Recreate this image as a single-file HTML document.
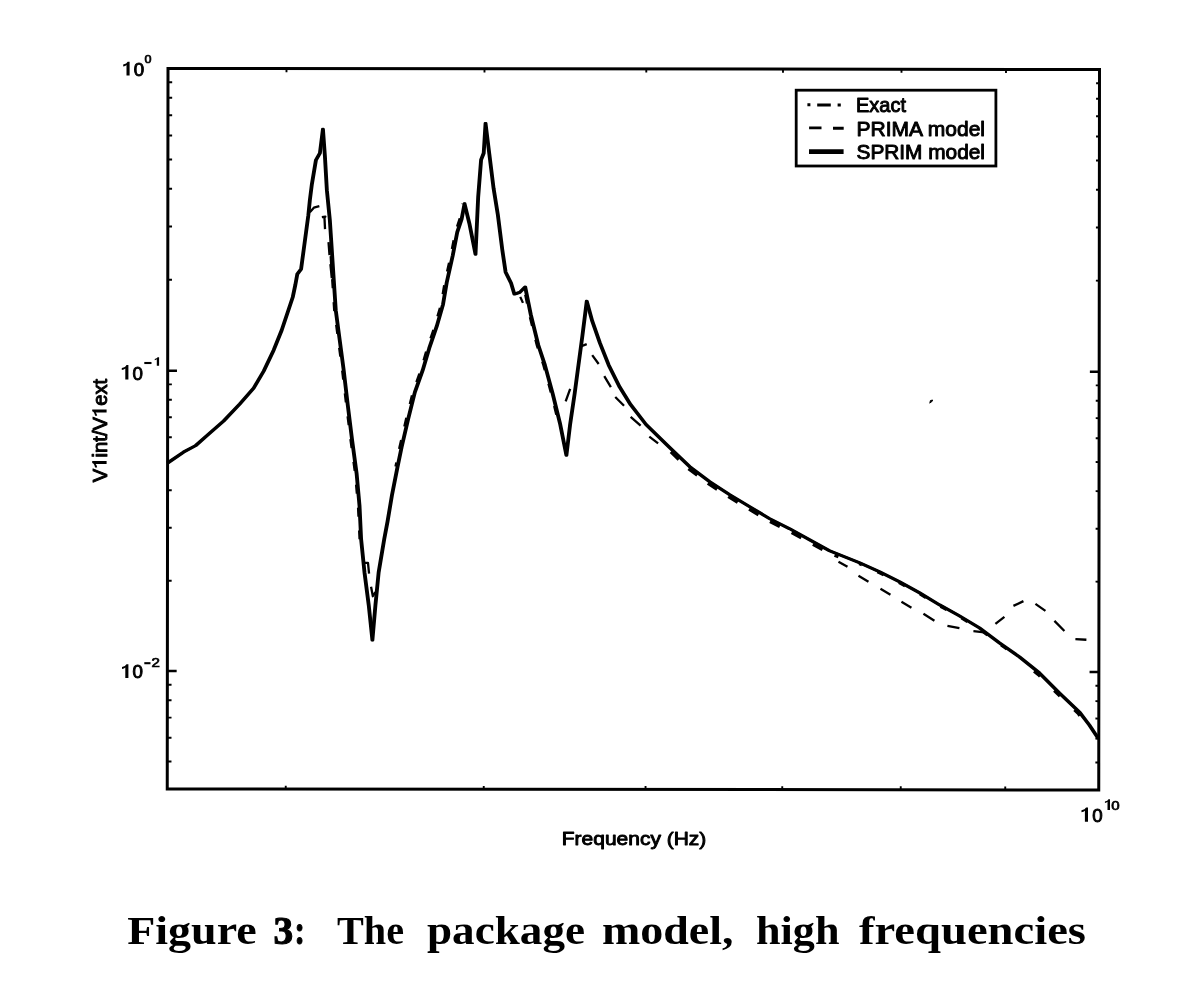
<!DOCTYPE html>
<html><head><meta charset="utf-8"><title>Figure 3</title>
<style>html,body{margin:0;padding:0;background:#fff}body{width:1184px;height:1000px;overflow:hidden}svg{display:block;filter:grayscale(1)}text{font-family:"Liberation Sans",sans-serif;fill:#000}.cap{font-family:"Liberation Serif",serif;font-weight:bold}</style></head><body>
<svg width="1184" height="1000" viewBox="0 0 1184 1000">
<rect width="1184" height="1000" fill="#fff"/>
<g transform="rotate(0.06 168 68.5)">
<rect x="168.0" y="68.5" width="931.5" height="720.5" fill="none" stroke="#000" stroke-width="3"/>
<path d="M168.0 279.7 h4.2 M1099.5 279.7 h-3.4 M168.0 226.5 h4.2 M1099.5 226.5 h-3.4 M168.0 188.8 h4.2 M1099.5 188.8 h-3.4 M168.0 159.5 h4.2 M1099.5 159.5 h-3.4 M168.0 135.5 h4.2 M1099.5 135.5 h-3.4 M168.0 115.3 h4.2 M1099.5 115.3 h-3.4 M168.0 97.8 h4.2 M1099.5 97.8 h-3.4 M168.0 82.3 h4.2 M1099.5 82.3 h-3.4 M168.0 580.7 h4.2 M1099.5 580.7 h-3.4 M168.0 527.8 h4.2 M1099.5 527.8 h-3.4 M168.0 490.2 h4.2 M1099.5 490.2 h-3.4 M168.0 461.1 h4.2 M1099.5 461.1 h-3.4 M168.0 437.3 h4.2 M1099.5 437.3 h-3.4 M168.0 417.2 h4.2 M1099.5 417.2 h-3.4 M168.0 399.8 h4.2 M1099.5 399.8 h-3.4 M168.0 384.4 h4.2 M1099.5 384.4 h-3.4 M168.0 761.5 h4.2 M1099.5 761.5 h-3.4 M168.0 737.7 h4.2 M1099.5 737.7 h-3.4 M168.0 717.6 h4.2 M1099.5 717.6 h-3.4 M168.0 700.2 h4.2 M1099.5 700.2 h-3.4 M168.0 684.8 h4.2 M1099.5 684.8 h-3.4 M286.5 68.5 v3.6 M286.5 789.0 v-3.4 M484.5 68.5 v3.6 M484.5 789.0 v-3.4 M646.3 68.5 v3.6 M646.3 789.0 v-3.4 M783.0 68.5 v3.6 M783.0 789.0 v-3.4 M901.5 68.5 v3.6 M901.5 789.0 v-3.4 M1006.0 68.5 v3.6 M1006.0 789.0 v-3.4" stroke="#000" stroke-width="1.9" fill="none"/>
<path d="M168.0 370.7 h9.3 M1099.5 370.7 h-9.3 M168.0 671.1 h9.3 M1099.5 671.1 h-9.3" stroke="#000" stroke-width="2.5" fill="none"/>
<path d="M310.0 212.0 L314.0 207.5 L319.5 206.0 M322.0 217.0 L325.5 216.5 L324.6 217.0 L325.2 229.0 M328.7 242.0 L329.7 255.0 M330.6 264.0 L332.0 278.0 M364.0 562.7 L368.5 562.7 L369.6 573.5 M371.6 586.5 L373.4 596.0 L376.0 592.0 M523.2 302.5 L520.5 296.5 M566.0 401.0 L570.5 388.5 M580.4 346.3 L587.0 343.7 M592.5 354.7 L599.0 363.5 M604.6 375.6 L611.2 386.6 M615.6 396.5 L624.4 405.3 M631.0 416.4 L641.0 425.1 M649.7 436.2 L658.5 442.8 M839.0 561.0 L848.0 566.0 M859.0 575.0 L869.0 581.0 M881.0 588.0 L891.0 594.0 M902.0 601.0 L912.0 607.0 M924.0 613.0 L935.0 620.0 M948.0 625.0 L960.0 627.3 M974.0 630.3 L985.0 631.5 M996.0 623.0 L1005.0 616.0 M1014.0 605.0 L1024.0 600.2 M1036.0 603.0 L1046.0 610.0 M1055.0 620.0 L1065.0 630.0 M1076.0 638.2 L1087.0 638.8" stroke="#000" stroke-width="2.3" fill="none" stroke-linejoin="round"/>
<path d="M168.0 463.0 L184.0 452.0 L196.0 445.6 L208.0 435.0 L224.0 421.0 L240.0 404.0 L254.0 388.0 L264.0 371.0 L274.0 350.0 L282.0 330.0 L288.0 312.0 L293.0 297.0 L295.5 285.0 L297.5 274.0 L301.3 269.0 L302.5 260.0 L304.5 245.0 L306.5 230.0 L308.5 215.0 L310.0 200.0 L312.0 184.0 L316.0 160.0 L320.0 153.0 L323.0 129.0 L325.0 156.0 L327.0 190.0 L330.0 220.0 L332.0 250.0 L334.0 280.0 L336.0 310.0 L340.0 340.0 L344.0 370.0 L348.0 404.0 L352.5 440.0 L357.0 473.0 L360.0 506.0 L361.6 539.0 L365.0 572.0 L369.3 605.0 L373.0 640.0 L376.0 605.0 L379.2 572.0 L384.7 539.0 L388.0 521.4 L392.4 495.0 L398.0 466.4 L402.0 447.0 L408.6 418.5 L415.2 392.0 L423.0 370.0 L429.5 348.0 L437.0 326.0 L443.3 304.0 L447.0 282.0 L453.0 255.0 L457.4 232.0 L461.8 218.8 L464.7 203.4 L469.5 223.0 L475.7 254.0 L478.3 196.8 L481.2 159.4 L483.8 152.8 L485.6 123.0 L489.3 152.8 L493.7 188.0 L498.0 214.4 L502.5 249.6 L505.8 271.7 L511.3 282.7 L514.6 293.7 L520.0 292.0 L525.4 286.5 L531.0 314.0 L538.6 344.8 L545.2 364.6 L553.0 393.2 L560.6 424.0 L566.8 454.9 L570.5 424.0 L575.0 393.2 L578.2 369.0 L582.6 336.0 L587.0 300.8 L592.5 320.6 L600.2 342.6 L609.0 364.6 L620.0 386.6 L631.0 404.2 L646.4 424.0 L670.0 447.0 L690.0 466.0 L710.0 481.0 L730.0 494.0 L750.0 506.0 L770.0 518.0 L790.0 528.0 L810.0 539.0 L830.0 550.0 L840.0 554.0 L860.0 562.0 L880.0 571.0 L900.0 581.0 L920.0 592.0 L940.0 604.0 L960.0 615.0 L980.0 627.0 L1000.0 642.0 L1020.0 656.0 L1040.0 672.0 L1060.0 692.0 L1080.0 711.0 L1090.0 724.0 L1099.0 737.5" stroke="#000" stroke-width="2.75" fill="none" stroke-linejoin="round" transform="translate(-0.55 0)"/>
<path d="M168.0 463.0 L184.0 452.0 L196.0 445.6 L208.0 435.0 L224.0 421.0 L240.0 404.0 L254.0 388.0 L264.0 371.0 L274.0 350.0 L282.0 330.0 L288.0 312.0 L293.0 297.0 L295.5 285.0 L297.5 274.0 L301.3 269.0 L302.5 260.0 L304.5 245.0 L306.5 230.0 L308.5 215.0 L310.0 200.0 L312.0 184.0 L316.0 160.0 L320.0 153.0 L323.0 129.0 L325.0 156.0 L327.0 190.0 L330.0 220.0 L332.0 250.0 L334.0 280.0 L336.0 310.0 L340.0 340.0 L344.0 370.0 L348.0 404.0 L352.5 440.0 L357.0 473.0 L360.0 506.0 L361.6 539.0 L365.0 572.0 L369.3 605.0 L373.0 640.0 L376.0 605.0 L379.2 572.0 L384.7 539.0 L388.0 521.4 L392.4 495.0 L398.0 466.4 L402.0 447.0 L408.6 418.5 L415.2 392.0 L423.0 370.0 L429.5 348.0 L437.0 326.0 L443.3 304.0 L447.0 282.0 L453.0 255.0 L457.4 232.0 L461.8 218.8 L464.7 203.4 L469.5 223.0 L475.7 254.0 L478.3 196.8 L481.2 159.4 L483.8 152.8 L485.6 123.0 L489.3 152.8 L493.7 188.0 L498.0 214.4 L502.5 249.6 L505.8 271.7 L511.3 282.7 L514.6 293.7 L520.0 292.0 L525.4 286.5 L531.0 314.0 L538.6 344.8 L545.2 364.6 L553.0 393.2 L560.6 424.0 L566.8 454.9 L570.5 424.0 L575.0 393.2 L578.2 369.0 L582.6 336.0 L587.0 300.8 L592.5 320.6 L600.2 342.6 L609.0 364.6 L620.0 386.6 L631.0 404.2 L646.4 424.0 L670.0 447.0 L690.0 466.0 L710.0 481.0 L730.0 494.0 L750.0 506.0 L770.0 518.0 L790.0 528.0 L810.0 539.0 L830.0 550.0 L840.0 554.0 L860.0 562.0 L880.0 571.0 L900.0 581.0 L920.0 592.0 L940.0 604.0 L960.0 615.0 L980.0 627.0 L1000.0 642.0 L1020.0 656.0 L1040.0 672.0 L1060.0 692.0 L1080.0 711.0 L1090.0 724.0 L1099.0 737.5" stroke="#000" stroke-width="2.75" fill="none" stroke-linejoin="round" transform="translate(0.55 0)"/>
<path d="M669.1 448.8 L689.1 467.8 L709.1 482.8 L729.1 495.8 L749.1 507.8 L769.1 519.8 L789.1 529.8 L809.1 540.8 L829.1 551.8 L839.1 555.8" stroke="#000" stroke-width="4.0" fill="none" stroke-dasharray="11 13.3" stroke-dashoffset="21"/>
<path d="M859.6 563.0 L879.6 572.0 L899.6 582.0 L919.6 593.0 L939.6 605.0 L959.6 616.0 L979.6 628.0 L999.6 643.0 L1019.6 657.0" stroke="#000" stroke-width="2.6" fill="none" stroke-dasharray="7 17" stroke-dashoffset="4"/>
<path d="M1019.2 657.6 L1039.2 673.6 L1059.2 693.6 L1079.2 712.6 L1089.2 725.6" stroke="#000" stroke-width="3.6" fill="none" stroke-dasharray="8 20" stroke-dashoffset="-20"/>
<path d="M396.5 466.4 L400.5 447.0 L407.1 418.5 L413.7 392.0 L421.5 370.0 L428.0 348.0 L435.5 326.0 L441.8 304.0 L445.5 282.0 L451.5 255.0 L455.9 232.0 L460.3 218.8 L463.2 203.4" stroke="#000" stroke-width="3.5" fill="none" stroke-dasharray="9 14" stroke-dashoffset="5"/>
<path d="M330.8 250.0 L332.8 280.0 L334.8 310.0 L338.8 340.0 L342.8 370.0 L346.8 404.0 L351.3 440.0 L355.8 473.0 L358.8 506.0 L360.4 539.0" stroke="#000" stroke-width="3.0" fill="none" stroke-dasharray="9 14" stroke-dashoffset="-6"/>
<path d="M524.2 286.5 L529.8 314.0 L537.4 344.8 L544.0 364.6 L551.8 393.2 L559.4 424.0" stroke="#000" stroke-width="3.0" fill="none" stroke-dasharray="9 14" stroke-dashoffset="-8"/>
</g>
<rect x="796.2" y="90.2" width="199.7" height="75.8" fill="#fff" stroke="#000" stroke-width="2.8"/>
<path d="M807.4 104.8 h3 M817.2 105 h13.6 M837.6 105 h3.2" stroke="#000" stroke-width="3" fill="none"/>
<path d="M809.1 127.9 h12.4 M833 128.3 h10.7" stroke="#000" stroke-width="2.9" fill="none"/>
<path d="M809 151.6 h34.6" stroke="#000" stroke-width="4.6" fill="none"/>
<text x="856" y="111.8" font-size="20.2" textLength="50" lengthAdjust="spacingAndGlyphs" stroke="#000" stroke-width="0.95" stroke-linejoin="round">Exact</text>
<text x="856.5" y="135.9" font-size="20.2" textLength="128.5" lengthAdjust="spacingAndGlyphs" stroke="#000" stroke-width="0.95" stroke-linejoin="round">PRIMA model</text>
<text x="856.5" y="159.4" font-size="20.2" textLength="128.5" lengthAdjust="spacingAndGlyphs" stroke="#000" stroke-width="0.95" stroke-linejoin="round">SPRIM model</text>
<text x="561.8" y="844.6" font-size="19" textLength="144.5" lengthAdjust="spacingAndGlyphs" stroke="#000" stroke-width="0.95" stroke-linejoin="round">Frequency (Hz)</text>
<g transform="translate(106.6 482.2) rotate(-90)">
<text x="0.00" y="0" font-size="19.3" textLength="13.49" lengthAdjust="spacingAndGlyphs" stroke="#000" stroke-width="0.95" stroke-linejoin="round">V</text>
<text x="24.74" y="0" font-size="19.3" textLength="40.47" lengthAdjust="spacingAndGlyphs" stroke="#000" stroke-width="0.95" stroke-linejoin="round">int/V</text>
<text x="76.46" y="0" font-size="19.3" textLength="26.98" lengthAdjust="spacingAndGlyphs" stroke="#000" stroke-width="0.95" stroke-linejoin="round">ext</text>
<path d="M21.09 0.00 V-14.40 H19.23 Q18.39 -12.10 14.64 -11.52 V-9.43 Q16.94 -9.65 18.09 -10.94 V0.00 Z M72.81 0.00 V-14.40 H70.95 Q70.11 -12.10 66.35 -11.52 V-9.43 Q68.66 -9.65 69.81 -10.94 V0.00 Z" fill="#000"/>
</g>
<path d="M129.60 75.60 V61.80 H127.68 Q126.81 64.01 123.19 64.56 V66.56 Q125.40 66.35 126.50 65.11 V75.60 Z" fill="#000"/>
<text x="133.8" y="75.6" font-size="17.9" textLength="10.4" lengthAdjust="spacingAndGlyphs" stroke="#000" stroke-width="0.95" stroke-linejoin="round">0</text>
<text x="144.6" y="62.9" font-size="11.6" textLength="7" lengthAdjust="spacingAndGlyphs" stroke="#000" stroke-width="0.7">0</text>
<path d="M128.40 379.60 V365.00 H126.48 Q125.61 367.34 121.80 367.92 V370.04 Q124.13 369.82 125.30 368.50 V379.60 Z" fill="#000"/>
<text x="132.6" y="379.6" font-size="19.0" textLength="10.4" lengthAdjust="spacingAndGlyphs" stroke="#000" stroke-width="0.95" stroke-linejoin="round">0</text>
<path d="M144.3 363 h7.2" stroke="#000" stroke-width="2.1"/>
<path d="M159.10 365.80 V357.20 H157.67 Q157.03 358.58 154.74 358.92 V360.17 Q156.11 360.04 156.80 359.26 V365.80 Z" fill="#000"/>
<path d="M128.40 677.90 V664.20 H126.48 Q125.61 666.39 122.01 666.94 V668.93 Q124.20 668.72 125.30 667.49 V677.90 Z" fill="#000"/>
<text x="132.6" y="677.9" font-size="17.7" textLength="10.4" lengthAdjust="spacingAndGlyphs" stroke="#000" stroke-width="0.95" stroke-linejoin="round">0</text>
<path d="M144.3 663.2 h6.2" stroke="#000" stroke-width="2.1"/>
<text x="151.6" y="666.5" font-size="12.8" textLength="8.4" lengthAdjust="spacingAndGlyphs" stroke="#000" stroke-width="0.7">2</text>
<path d="M1088.00 821.70 V807.40 H1086.08 Q1085.21 809.69 1081.47 810.26 V812.33 Q1083.76 812.12 1084.90 810.83 V821.70 Z" fill="#000"/>
<text x="1092.2" y="821.7" font-size="18.6" textLength="10.4" lengthAdjust="spacingAndGlyphs" stroke="#000" stroke-width="0.95" stroke-linejoin="round">0</text>
<path d="M1110.00 810.00 V799.30 H1108.45 Q1107.75 801.01 1104.93 801.44 V802.99 Q1106.64 802.83 1107.50 801.87 V810.00 Z" fill="#000"/>
<text x="1111.2" y="810.0" font-size="13.6" textLength="8.4" lengthAdjust="spacingAndGlyphs" stroke="#000" stroke-width="0.7">0</text>
<text class="cap" x="127.2" y="943.6" font-size="41" textLength="129.6" lengthAdjust="spacingAndGlyphs">Figure</text>
<text class="cap" x="273.5" y="943.6" font-size="41" textLength="19.7" lengthAdjust="spacingAndGlyphs" stroke="#000" stroke-width="1.1">3</text>
<text class="cap" x="294.6" y="943.6" font-size="41" textLength="10.4" lengthAdjust="spacingAndGlyphs" stroke="#000" stroke-width="1.1">:</text>
<text class="cap" x="337.0" y="943.6" font-size="41" textLength="67.0" lengthAdjust="spacingAndGlyphs">The</text>
<text class="cap" x="427.0" y="943.6" font-size="41" textLength="158.0" lengthAdjust="spacingAndGlyphs">package</text>
<text class="cap" x="602.0" y="943.6" font-size="41" textLength="131.5" lengthAdjust="spacingAndGlyphs">model,</text>
<text class="cap" x="756.0" y="943.6" font-size="41" textLength="83.5" lengthAdjust="spacingAndGlyphs">high</text>
<text class="cap" x="859.0" y="943.6" font-size="41" textLength="227.0" lengthAdjust="spacingAndGlyphs">frequencies</text>
<path d="M929.8 403.2 l0.6 -2.6 l2.2 -0.6 l-0.6 1.6 l-1 0.4 z" fill="#000" stroke="#000" stroke-width="1"/>
</svg></body></html>
